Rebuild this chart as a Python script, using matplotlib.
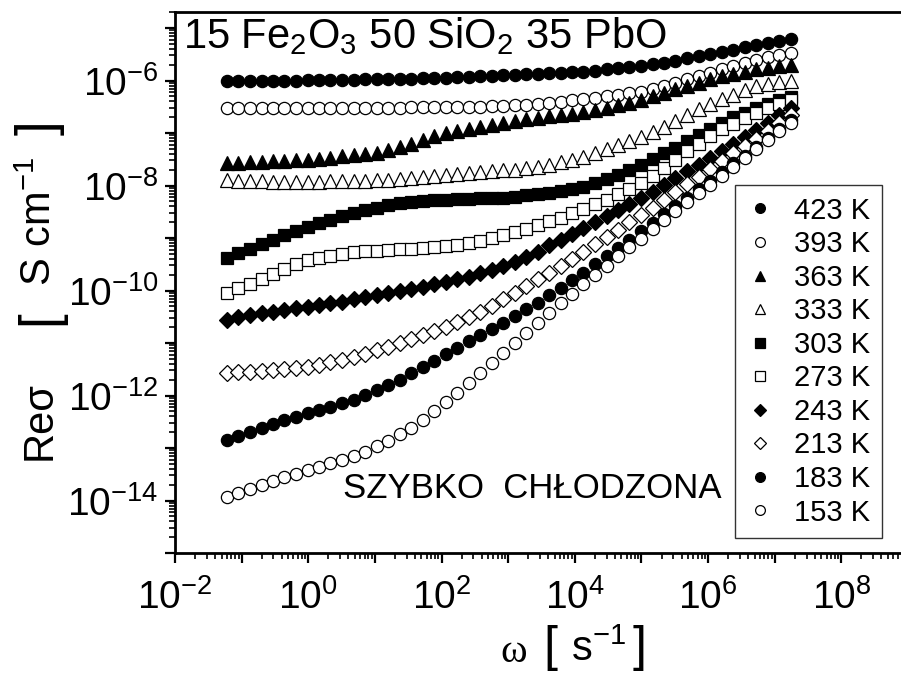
import numpy as np
import matplotlib
matplotlib.use("Agg")
import matplotlib.pyplot as plt
from matplotlib import font_manager
from matplotlib.ticker import FixedLocator, FuncFormatter, NullFormatter

# log10(omega / s^-1), shared by all temperatures
LOG_W = [-1.22, -1.05, -0.87, -0.70, -0.53, -0.36, -0.18, -0.01, 0.16, 0.33,
         0.51, 0.68, 0.85, 1.03, 1.20, 1.37, 1.54, 1.72, 1.89, 2.06,
         2.23, 2.41, 2.58, 2.75, 2.92, 3.10, 3.27, 3.44, 3.62, 3.79,
         3.96, 4.13, 4.31, 4.48, 4.65, 4.82, 5.00, 5.17, 5.34, 5.51,
         5.69, 5.86, 6.03, 6.21, 6.38, 6.55, 6.72, 6.90, 7.07, 7.24]

# log10(Re sigma / S cm^-1)
S_423 = [-6.00, -6.00, -6.00, -6.00, -6.00, -6.00, -6.00, -5.99, -5.99, -5.99,
         -5.99, -5.99, -5.98, -5.98, -5.98, -5.97, -5.97, -5.96, -5.96, -5.95,
         -5.94, -5.93, -5.92, -5.91, -5.90, -5.89, -5.88, -5.87, -5.86, -5.85,
         -5.84, -5.83, -5.81, -5.79, -5.77, -5.75, -5.72, -5.69, -5.66, -5.62,
         -5.58, -5.54, -5.50, -5.46, -5.42, -5.37, -5.33, -5.28, -5.24, -5.20]
S_393 = [-6.52, -6.52, -6.52, -6.52, -6.52, -6.52, -6.52, -6.52, -6.52, -6.52,
         -6.52, -6.52, -6.52, -6.52, -6.52, -6.52, -6.51, -6.51, -6.51, -6.51,
         -6.51, -6.50, -6.50, -6.49, -6.48, -6.47, -6.46, -6.44, -6.42, -6.40,
         -6.38, -6.36, -6.33, -6.30, -6.27, -6.24, -6.21, -6.17, -6.11, -6.05,
         -5.98, -5.92, -5.85, -5.78, -5.72, -5.66, -5.61, -5.56, -5.52, -5.48]
S_363 = [-7.57, -7.57, -7.56, -7.55, -7.54, -7.53, -7.52, -7.51, -7.49, -7.47,
         -7.44, -7.42, -7.40, -7.38, -7.33, -7.27, -7.20, -7.13, -7.06, -7.00,
         -6.96, -6.92, -6.88, -6.85, -6.81, -6.78, -6.74, -6.71, -6.68, -6.65,
         -6.63, -6.60, -6.56, -6.52, -6.47, -6.43, -6.37, -6.30, -6.23, -6.17,
         -6.10, -6.04, -5.98, -5.92, -5.87, -5.83, -5.79, -5.76, -5.73, -5.70]
S_333 = [-7.90, -7.91, -7.92, -7.92, -7.93, -7.93, -7.93, -7.93, -7.93, -7.92,
         -7.92, -7.91, -7.91, -7.90, -7.89, -7.87, -7.85, -7.83, -7.81, -7.80,
         -7.78, -7.76, -7.75, -7.73, -7.71, -7.70, -7.67, -7.64, -7.60, -7.56,
         -7.51, -7.45, -7.38, -7.31, -7.23, -7.15, -7.07, -6.98, -6.88, -6.77,
         -6.66, -6.55, -6.45, -6.36, -6.27, -6.18, -6.11, -6.06, -6.03, -6.00]
S_303 = [-9.38, -9.29, -9.20, -9.11, -9.03, -8.94, -8.86, -8.79, -8.72, -8.65,
         -8.58, -8.52, -8.47, -8.42, -8.37, -8.33, -8.31, -8.29, -8.28, -8.27,
         -8.26, -8.25, -8.24, -8.24, -8.23, -8.21, -8.19, -8.17, -8.14, -8.11,
         -8.07, -8.03, -7.96, -7.88, -7.80, -7.71, -7.61, -7.50, -7.39, -7.28,
         -7.16, -7.04, -6.92, -6.80, -6.70, -6.61, -6.52, -6.44, -6.37, -6.31]
S_273 = [-10.05, -9.96, -9.87, -9.78, -9.68, -9.59, -9.50, -9.42, -9.38, -9.34,
         -9.30, -9.27, -9.25, -9.24, -9.22, -9.21, -9.20, -9.19, -9.17, -9.15,
         -9.13, -9.10, -9.05, -9.00, -8.95, -8.89, -8.83, -8.76, -8.68, -8.61,
         -8.53, -8.44, -8.36, -8.27, -8.17, -8.07, -7.96, -7.82, -7.67, -7.51,
         -7.35, -7.20, -7.06, -6.93, -6.82, -6.72, -6.62, -6.53, -6.45, -6.37]
S_243 = [-10.56, -10.51, -10.47, -10.43, -10.40, -10.37, -10.34, -10.31, -10.28, -10.24,
         -10.21, -10.17, -10.13, -10.09, -10.05, -10.01, -9.97, -9.93, -9.88, -9.83,
         -9.78, -9.74, -9.67, -9.60, -9.53, -9.46, -9.36, -9.26, -9.14, -9.03,
         -8.92, -8.81, -8.70, -8.59, -8.47, -8.36, -8.24, -8.12, -7.99, -7.86,
         -7.73, -7.60, -7.47, -7.34, -7.21, -7.08, -6.94, -6.80, -6.66, -6.52]
S_213 = [-11.57, -11.56, -11.55, -11.54, -11.52, -11.50, -11.48, -11.46, -11.42, -11.37,
         -11.32, -11.27, -11.21, -11.14, -11.07, -11.00, -10.93, -10.85, -10.77, -10.70,
         -10.60, -10.50, -10.40, -10.30, -10.17, -10.04, -9.92, -9.79, -9.66, -9.53,
         -9.40, -9.26, -9.12, -8.98, -8.84, -8.70, -8.56, -8.42, -8.27, -8.13,
         -7.97, -7.83, -7.68, -7.53, -7.39, -7.25, -7.11, -6.96, -6.81, -6.66]
S_183 = [-12.85, -12.77, -12.70, -12.62, -12.55, -12.47, -12.41, -12.34, -12.28, -12.22,
         -12.15, -12.09, -11.99, -11.89, -11.80, -11.70, -11.58, -11.46, -11.34, -11.21,
         -11.09, -10.97, -10.85, -10.73, -10.61, -10.48, -10.36, -10.24, -10.09, -9.95,
         -9.80, -9.66, -9.50, -9.35, -9.19, -9.03, -8.87, -8.71, -8.55, -8.39,
         -8.23, -8.07, -7.91, -7.74, -7.58, -7.43, -7.27, -7.10, -6.92, -6.75]
S_153 = [-13.93, -13.86, -13.78, -13.70, -13.63, -13.55, -13.49, -13.42, -13.36, -13.29,
         -13.22, -13.15, -13.07, -12.97, -12.86, -12.74, -12.61, -12.46, -12.30, -12.13,
         -11.95, -11.76, -11.57, -11.38, -11.19, -11.00, -10.81, -10.62, -10.43, -10.24,
         -10.06, -9.88, -9.70, -9.53, -9.35, -9.18, -9.01, -8.83, -8.65, -8.48,
         -8.31, -8.15, -7.99, -7.82, -7.65, -7.48, -7.31, -7.14, -6.97, -6.80]

LABELS = ["423 K", "393 K", "363 K", "333 K", "303 K",
          "273 K", "243 K", "213 K", "183 K", "153 K"]
SERIES = [S_423, S_393, S_363, S_333, S_303, S_273, S_243, S_213, S_183, S_153]
MARKERS = ["o", "o", "^", "^", "s", "s", "D", "D", "o", "o"]
FILLED = [True, False, True, False, True, False, True, False, True, False]

plt.rcParams["font.family"] = ["Liberation Sans", "DejaVu Sans"]
plt.rcParams["mathtext.fontset"] = "custom"
plt.rcParams["mathtext.rm"] = "Liberation Sans"
plt.rcParams["mathtext.it"] = "Liberation Sans:italic"
plt.rcParams["mathtext.bf"] = "Liberation Sans:bold"

names = {f.name for f in font_manager.fontManager.ttflist}
NARROW = "Liberation Sans Narrow" if "Liberation Sans Narrow" in names else "Liberation Sans"

W, H = 901, 674
fig = plt.figure(figsize=(W / 100, H / 100), dpi=100)
ax = fig.add_axes([175 / W, 1 - 553 / H, 733 / W, 541 / H])

w = 10 ** np.array(LOG_W)
for s, m, f, lab in zip(SERIES, MARKERS, FILLED, LABELS):
    ms = 8.8 if m in ("o", "s") else (9.4 if m == "^" else 7.8)
    ax.plot(w, 10 ** np.array(s), ls="none", marker=m, ms=ms,
            mfc="black" if f else "white", mec="black", mew=0.9, label=lab)

ax.set_xscale("log")
ax.set_yscale("log")
ax.set_xlim(1e-2, 1e9)
ax.set_ylim(1e-15, 10 ** -4.695)

for side in ("left", "top", "bottom"):
    ax.spines[side].set_linewidth(2.0)
ax.spines["right"].set_visible(False)


def fmt(v, pos):
    e = int(round(np.log10(v)))
    return r"$10^{%d}$" % e if e % 2 == 0 else ""


ax.xaxis.set_major_locator(FixedLocator([10.0 ** k for k in range(-2, 10)]))
ax.yaxis.set_major_locator(FixedLocator([10.0 ** k for k in range(-15, -4)]))
ax.xaxis.set_minor_locator(FixedLocator([j * 10.0 ** k for k in range(-2, 9) for j in range(2, 10)]))
ax.yaxis.set_minor_locator(FixedLocator([j * 10.0 ** k for k in range(-15, -4) for j in range(2, 10)]))
ax.xaxis.set_major_formatter(FuncFormatter(fmt))
ax.yaxis.set_major_formatter(FuncFormatter(fmt))
ax.xaxis.set_minor_formatter(NullFormatter())
ax.yaxis.set_minor_formatter(NullFormatter())
ax.tick_params(which="major", direction="out", length=7, width=1.6, labelsize=28)
ax.tick_params(axis="x", which="major", pad=12)
ax.tick_params(axis="y", which="major", pad=5)
ax.tick_params(which="minor", direction="out", length=4, width=1.2)
ax.tick_params(top=False, right=False)

# y axis title, built from pieces so the brackets can be taller
fig.text(40 / W, 1 - 420 / H, "Reσ", fontsize=30, rotation=90, ha="center", va="center")
fig.text(40 / W, 1 - 318 / H, "[", fontsize=38, rotation=90, ha="center", va="center")
fig.text(40 / W, 1 - 222 / H, r"S cm$^{-1}$", fontsize=30, rotation=90, ha="center", va="center")
fig.text(40 / W, 1 - 128 / H, "]", fontsize=38, rotation=90, ha="center", va="center")

# x axis title
fig.text(514 / W, 1 - 652 / H, "ω", family=["Liberation Serif", "DejaVu Serif"],
         fontsize=29, ha="center", va="center")
fig.text(550 / W, 1 - 648 / H, "[", fontsize=36, ha="center", va="center")
fig.text(598 / W, 1 - 650 / H, r"s$^{-1}$", fontsize=30, ha="center", va="center")
fig.text(640 / W, 1 - 648 / H, "]", fontsize=36, ha="center", va="center")

fig.text(183 / W, 1 - 48 / H, r"15 Fe$_2$O$_3$ 50 SiO$_2$ 35 PbO",
         fontsize=30, ha="left", va="baseline")
fig.text(532 / W, 1 - 488 / H, "SZYBKO  CHŁODZONA", family=NARROW,
         fontsize=25, ha="center", va="center")

leg = ax.legend(loc="upper right", bbox_to_anchor=(882 / W, 1 - 185 / H),
                bbox_transform=fig.transFigure, borderaxespad=0, fontsize=21,
                frameon=True, fancybox=False, edgecolor="black", markerscale=0.8,
                handlelength=0.9, handletextpad=0.72, labelspacing=0.19,
                borderpad=0.4)
leg.get_frame().set_linewidth(1.0)

fig.savefig("out.png", dpi=100)
